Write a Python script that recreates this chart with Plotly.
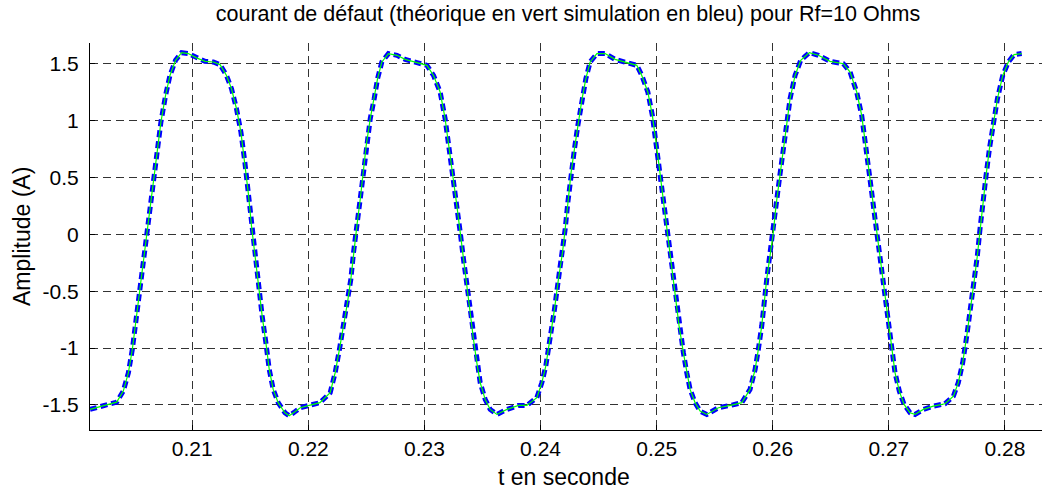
import plotly.graph_objects as go

# time (s) and current (A)
t_vals = [0.20119, 0.20249, 0.20349, 0.20406, 0.2045, 0.20484, 0.2052, 0.2055, 0.20578, 0.20607,
          0.20636, 0.20673, 0.20701, 0.2073, 0.2077, 0.20808, 0.20856, 0.20908, 0.20966, 0.21037,
          0.21109, 0.21181, 0.21239, 0.21295, 0.21338, 0.21381, 0.21419, 0.21453, 0.21482, 0.2151,
          0.2154, 0.21568, 0.21602, 0.21634, 0.21663, 0.21697, 0.2174, 0.21798, 0.21835, 0.21884,
          0.2193, 0.22016, 0.2210, 0.22188, 0.22231, 0.22268, 0.22303, 0.22337, 0.22366, 0.22389,
          0.22418, 0.22447, 0.2247, 0.22498, 0.22533, 0.22567, 0.22596, 0.22633, 0.2269, 0.22763,
          0.22834, 0.22935, 0.23021, 0.23078, 0.23135, 0.23178, 0.23215, 0.2325, 0.23279, 0.23308,
          0.23336, 0.23365, 0.23394, 0.23422, 0.23451, 0.2348, 0.23523, 0.23566, 0.23624, 0.2371,
          0.2381, 0.23882, 0.23968, 0.24011, 0.24045, 0.24083, 0.2412, 0.24154, 0.24189, 0.24212,
          0.24235, 0.24263, 0.24292, 0.24321, 0.24355, 0.2439, 0.24427, 0.24485, 0.24556, 0.24642,
          0.24743, 0.24829, 0.24872, 0.24924, 0.24963, 0.24992, 0.25021, 0.25049, 0.25079, 0.25107,
          0.25136, 0.25165, 0.25193, 0.2523, 0.25259, 0.25288, 0.25331, 0.25374, 0.25432, 0.25532,
          0.25647, 0.25733, 0.25804, 0.25848, 0.25876, 0.25905, 0.25948, 0.25976, 0.26005, 0.26028,
          0.26057, 0.26086, 0.26115, 0.26149, 0.26192, 0.26241, 0.26315, 0.26393, 0.26493, 0.26608,
          0.26666, 0.26723, 0.26766, 0.26795, 0.26823, 0.26852, 0.26881, 0.2691, 0.26938, 0.26967,
          0.26996, 0.27025, 0.27053, 0.2709, 0.27131, 0.27182, 0.27225, 0.27297, 0.27383, 0.27484,
          0.27556, 0.27598, 0.27636, 0.27671, 0.27705, 0.27733, 0.27762, 0.27785, 0.27808, 0.27837,
          0.27866, 0.279, 0.27935, 0.27981, 0.28029, 0.28078, 0.28144]

i_theorique = [-1.539, -1.504, -1.475, -1.378, -1.216, -1.01, -0.717, -0.482, -0.247, -0.012,
               0.252, 0.516, 0.78, 0.987, 1.221, 1.397, 1.53, 1.597, 1.589, 1.551,
               1.521, 1.515, 1.492, 1.397, 1.28, 1.104, 0.899, 0.634, 0.37, 0.076,
               -0.189, -0.453, -0.717, -0.952, -1.187, -1.363, -1.48, -1.568, -1.595, -1.56,
               -1.524, -1.501, -1.48, -1.392, -1.216, -1.01, -0.805, -0.599, -0.394, -0.159,
               0.076, 0.311, 0.546, 0.78, 1.016, 1.192, 1.368, 1.515, 1.589, 1.574,
               1.538, 1.509, 1.486, 1.397, 1.251, 1.016, 0.752, 0.487, 0.252, 0.018,
               -0.218, -0.453, -0.687, -0.922, -1.128, -1.304, -1.451, -1.539, -1.583, -1.539,
               -1.504, -1.504, -1.436, -1.304, -1.158, -0.922, -0.658, -0.394, -0.159, 0.047,
               0.282, 0.546, 0.752, 0.957, 1.177, 1.368, 1.515, 1.589, 1.589, 1.538,
               1.509, 1.486, 1.397, 1.251, 1.045, 0.84, 0.604, 0.37, 0.135, -0.1,
               -0.335, -0.57, -0.805, -1.04, -1.216, -1.363, -1.48, -1.554, -1.583, -1.524,
               -1.501, -1.48, -1.363, -1.187, -1.01, -0.805, -0.394, -0.189, 0.018, 0.252,
               0.487, 0.722, 0.957, 1.192, 1.397, 1.53, 1.597, 1.574, 1.521, 1.5,
               1.427, 1.251, 1.045, 0.84, 0.604, 0.37, 0.135, -0.1, -0.335, -0.57,
               -0.805, -1.01, -1.216, -1.378, -1.495, -1.568, -1.583, -1.539, -1.51, -1.489,
               -1.422, -1.304, -1.128, -0.893, -0.658, -0.423, -0.189, 0.047, 0.282, 0.516,
               0.752, 0.987, 1.192, 1.397, 1.515, 1.58, 1.589]

# simulation overlays the theoretical curve in the reference
i_simulation = list(i_theorique)

x_ticks = [0.21, 0.22, 0.23, 0.24, 0.25, 0.26, 0.27, 0.28]
x_labels = ["0.21", "0.22", "0.23", "0.24", "0.25", "0.26", "0.27", "0.28"]
y_ticks = [-1.5, -1, -0.5, 0, 0.5, 1, 1.5]
y_labels = ["-1.5", "-1", "-0.5", "0", "0.5", "1", "1.5"]

FONT = "Liberation Sans, Arial, sans-serif"
W, H = 1044, 491
ML, MR, MT, MB = 90, 2, 43, 61
PW, PH = W - ML - MR, H - MT - MB

fig = go.Figure()
fig.add_trace(go.Scatter(x=t_vals, y=i_simulation, mode="lines", name="simulation",
                         line=dict(color="#0000FF", width=5, dash="7px,4px")))
fig.add_trace(go.Scatter(x=t_vals, y=i_theorique, mode="lines", name="théorique",
                         line=dict(color="#00FF00", width=1.2)))

fig.update_layout(
    width=W, height=H,
    margin=dict(l=ML, r=MR, t=MT, b=MB, autoexpand=False),
    paper_bgcolor="white", plot_bgcolor="white",
    showlegend=False,
    font=dict(family=FONT, size=21, color="black"),
    title=dict(text="courant de défaut (théorique en vert simulation en bleu) pour Rf=10 Ohms",
               font=dict(family=FONT, size=21.5, color="black"),
               x=(568 - ML) / PW, xref="paper", xanchor="center",
               y=1 - 13 / H, yref="container", yanchor="middle"),
    annotations=[
        dict(text="t en seconde", xref="paper", yref="paper",
             x=(564 - ML) / PW, y=-(477 - (MT + PH)) / PH,
             xanchor="center", yanchor="middle", showarrow=False,
             font=dict(family=FONT, size=23, color="black")),
        dict(text="Amplitude (A)", xref="paper", yref="paper",
             x=(22 - ML) / PW, y=(MT + PH - 237) / PH, textangle=-90,
             xanchor="center", yanchor="middle", showarrow=False,
             font=dict(family=FONT, size=23, color="black")),
    ],
)
fig.update_xaxes(
    range=[0.201192, 0.28319], tickvals=x_ticks, ticktext=x_labels,
    showline=True, linecolor="black", linewidth=1, mirror=False,
    ticks="inside", ticklen=5, tickcolor="black",
    showgrid=True, gridcolor="#333333", gridwidth=1, griddash="8px,5px",
    zeroline=False, ticklabelstandoff=0, automargin=False,
)
fig.update_yaxes(
    range=[-1.72, 1.682], tickvals=y_ticks, ticktext=y_labels,
    showline=True, linecolor="black", linewidth=1, mirror=False,
    ticks="inside", ticklen=5, tickcolor="black",
    showgrid=True, gridcolor="#333333", gridwidth=1, griddash="8px,5px",
    zeroline=False, ticklabelstandoff=6, automargin=False,
)

fig.write_html("out.html", config={"displayModeBar": False},
               post_script="document.body.style.margin='0';document.body.style.overflow='hidden';")
